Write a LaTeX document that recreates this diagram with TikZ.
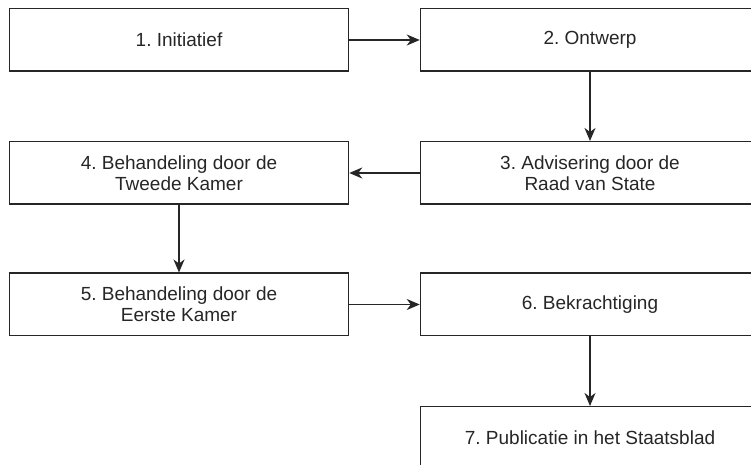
\documentclass[tikz,border=0pt]{standalone}
\usepackage{fontspec}
\setmainfont{Liberation Sans}
\usetikzlibrary{arrows.meta}
\frenchspacing

\begin{document}
\begin{tikzpicture}[x=1pt,y=1pt,
		blok/.style={draw=black!85,line width=1.5pt,minimum width=339pt,minimum height=62.5pt,
			inner sep=0pt,align=center,text=black!85,font=\fontsize{19}{21}\selectfont},
		pijl/.style={draw=black!85,line width=1.5pt,-{Stealth[length=13pt,width=11pt,inset=4pt]}}]
				% Rahmen 751 x 465
				\useasboundingbox (0,0) rectangle (751,465);
				\clip (0,0) rectangle (751,465);
				
				% Linke Spalte
				\node[blok] (init) at (179,425) {1. Initiatief};
				\node[blok] (tweede) at (179,292) {4. Behandeling door de\\Tweede Kamer};
				\node[blok] (eerste) at (179,160.5) {5. Behandeling door de\\Eerste Kamer};
				
				% Rechte Spalte
				\node[blok] (ontwerp) at (590,425) {2. Ontwerp};
				\node[blok] (raad) at (590,292) {3. Advisering door de\\Raad van State};
				\node[blok] (bekr) at (590,160.5) {6. Bekrachtiging};
				\node[blok] (publ) at (590,27) {7. Publicatie in het Staatsblad};
				
				% Pfeile
				\draw[pijl] (init) -- (ontwerp);
				\draw[pijl] (ontwerp) -- (raad);
				\draw[pijl] (raad) -- (tweede);
				\draw[pijl] (tweede) -- (eerste);
				\draw[pijl] (eerste) -- (bekr);
				\draw[pijl] (bekr) -- (publ);
				
			\end{tikzpicture}
\end{document}
